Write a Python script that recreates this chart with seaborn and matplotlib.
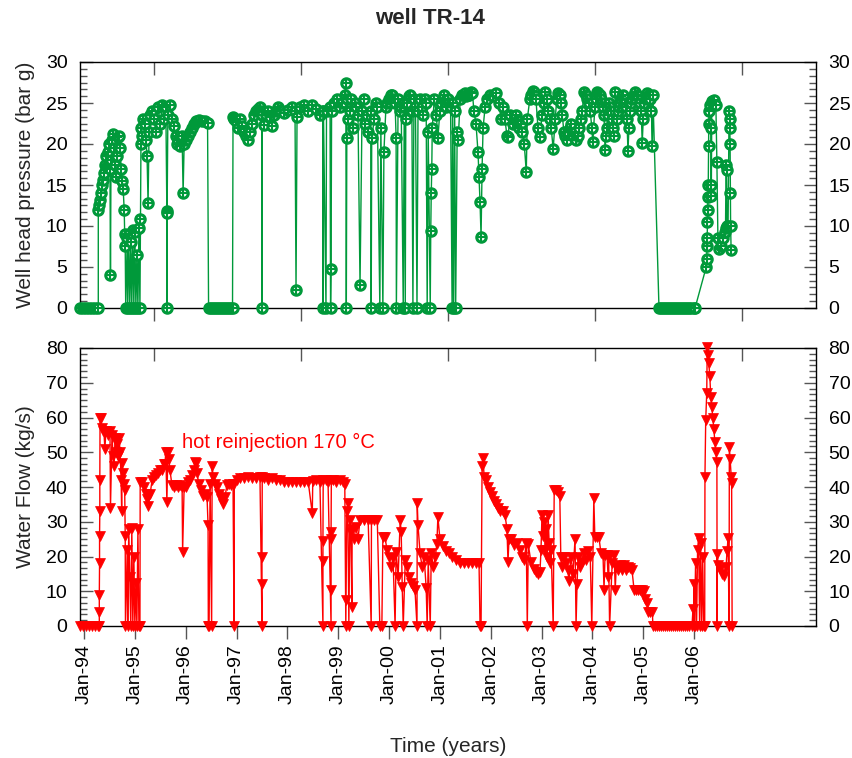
import numpy as np
import pandas as pd
import matplotlib
matplotlib.use("Agg")
import matplotlib.pyplot as plt
import matplotlib.dates as mdates
from matplotlib.ticker import MultipleLocator, AutoMinorLocator, NullFormatter
import seaborn as sns

# ---- well TR-14: well head pressure (decimal year, bar g) ----
p_year_a = [1993.92, 1993.98, 1994.04, 1994.10, 1994.16, 1994.22, 1994.28, 1994.28, 1994.30, 1994.31,
            1994.33, 1994.35, 1994.37, 1994.39, 1994.41, 1994.43, 1994.45, 1994.47, 1994.49, 1994.51,
            1994.52, 1994.53, 1994.55, 1994.57, 1994.59, 1994.61, 1994.63, 1994.65, 1994.67, 1994.69,
            1994.71, 1994.73, 1994.75, 1994.77, 1994.79, 1994.80, 1994.81, 1994.82, 1994.85, 1994.86,
            1994.88, 1994.90, 1994.92, 1994.94, 1994.96, 1994.98, 1995.00, 1995.02, 1995.04, 1995.06,
            1995.08, 1995.10, 1995.11, 1995.12, 1995.13, 1995.14, 1995.16, 1995.20, 1995.22, 1995.24,
            1995.26, 1995.28, 1995.30, 1995.34, 1995.38, 1995.42, 1995.46, 1995.50, 1995.54, 1995.57,
            1995.61, 1995.63, 1995.63, 1995.635, 1995.65, 1995.69, 1995.73, 1995.77, 1995.81, 1995.83,
            1995.85, 1995.89, 1995.93, 1995.95, 1995.97, 1996.00, 1996.04, 1996.09, 1996.12, 1996.16,
            1996.20, 1996.26, 1996.32, 1996.38, 1996.43, 1996.45, 1996.49, 1996.53, 1996.57, 1996.61,
            1996.65, 1996.69, 1996.73, 1996.77, 1996.81, 1996.85, 1996.89, 1996.92, 1996.93, 1996.95,
            1996.99, 1997.03, 1997.07, 1997.11, 1997.15, 1997.19, 1997.23, 1997.27, 1997.31, 1997.34,
            1997.38, 1997.42, 1997.46, 1997.50, 1997.50, 1997.505, 1997.54, 1997.58, 1997.62, 1997.66,
            1997.70, 1997.74, 1997.78, 1997.82, 1997.86, 1997.93, 1998.01, 1998.09, 1998.15, 1998.17,
            1998.19, 1998.25, 1998.33, 1998.41, 1998.49, 1998.56, 1998.64, 1998.70, 1998.70, 1998.71,
            1998.76, 1998.77, 1998.84, 1998.85, 1998.86, 1998.87, 1998.92, 1998.98]
p_bar_a = [0, 0, 0, 0, 0, 0, 0, 12.0, 12.5, 13.2,
           14.0, 15.0, 15.6, 16.5, 17.5, 18.5, 17.2, 19.0, 20.0, 17.0,
           4.0, 18.0, 20.5, 21.2, 19.5, 17.5, 16.0, 18.5, 20.8, 21.0,
           19.5, 17.0, 15.5, 14.5, 12.0, 9.0, 7.5, 0, 8.5, 0,
           9.0, 0, 8.0, 0, 9.5, 0, 9.3, 0, 6.5, 0,
           9.8, 0, 10.8, 20.0, 22.0, 21.0, 23.0, 22.5, 20.5, 18.5,
           12.8, 21.5, 23.5, 24.0, 23.0, 21.5, 24.5, 22.5, 24.8, 23.0,
           24.5, 11.8, 0, 11.6, 23.5, 24.7, 23.0, 22.2, 21.0, 20.0,
           20.5, 19.8, 21.0, 14.0, 20.0, 20.5, 21.0, 21.5, 22.0, 22.5,
           22.8, 22.9, 22.8, 22.8, 22.6, 0, 0, 0, 0, 0,
           0, 0, 0, 0, 0, 0, 0, 0, 23.3, 23.0,
           22.8, 22.0, 23.0, 22.2, 21.5, 21.0, 20.5, 21.5, 22.5, 23.5,
           24.0, 24.3, 24.5, 24.0, 0, 23.5, 22.3, 23.5, 24.0, 23.3,
           22.2, 23.5, 24.0, 24.5, 24.2, 23.8, 24.2, 24.5, 24.0, 2.2,
           23.3, 24.5, 24.7, 24.0, 24.8, 24.3, 23.5, 24.0, 0, 24.0,
           0, 24.0, 24.5, 0, 4.8, 24.0, 25.0, 25.5]

p_year_b = [1999.04, 1999.08, 1999.13, 1999.15, 1999.16, 1999.17, 1999.18, 1999.20, 1999.23, 1999.26,
            1999.29, 1999.33, 1999.36, 1999.39, 1999.43, 1999.47, 1999.50, 1999.53, 1999.56, 1999.59,
            1999.64, 1999.65, 1999.66, 1999.71, 1999.74, 1999.77, 1999.82, 1999.84, 1999.88, 1999.90,
            1999.94, 1999.97, 2000.00, 2000.03, 2000.06, 2000.09, 2000.12, 2000.14, 2000.145, 2000.18,
            2000.21, 2000.24, 2000.28, 2000.30, 2000.32, 2000.33, 2000.36, 2000.39, 2000.42, 2000.45,
            2000.47, 2000.49, 2000.52, 2000.55, 2000.57, 2000.61, 2000.64, 2000.67, 2000.70, 2000.73,
            2000.75, 2000.77, 2000.81, 2000.82, 2000.83, 2000.84, 2000.85, 2000.89, 2000.93, 2000.96,
            2001.00, 2001.03, 2001.06, 2001.09, 2001.12, 2001.15, 2001.18, 2001.21, 2001.24, 2001.25,
            2001.27, 2001.29, 2001.31, 2001.34, 2001.36, 2001.40, 2001.43, 2001.46, 2001.49, 2001.52,
            2001.55, 2001.58, 2001.61, 2001.64, 2001.67, 2001.71, 2001.75, 2001.77, 2001.79, 2001.81,
            2001.83, 2001.85, 2001.89, 2001.93, 2001.99]
p_bar_b = [24.5, 25.0, 26.0, 27.4, 0, 20.7, 25.5, 23.0, 24.0, 25.5,
           22.0, 25.0, 24.5, 23.5, 2.8, 24.0, 25.5, 22.5, 23.5, 21.5,
           24.0, 0, 20.7, 23.0, 25.0, 24.5, 0, 22.0, 0, 19.0,
           24.5, 25.0, 25.5, 26.0, 26.0, 25.5, 25.0, 20.7, 0, 25.5,
           24.0, 24.5, 0, 25.0, 0, 23.0, 25.0, 25.8, 26.0, 24.0,
           0, 25.5, 24.5, 0, 24.0, 25.5, 24.5, 23.5, 25.5, 25.0,
           0, 21.5, 0, 9.4, 14.0, 17.0, 22.0, 25.5, 23.5, 20.7,
           24.0, 25.0, 25.5, 26.0, 24.5, 25.5, 25.0, 24.5, 0, 25.0,
           0, 24.0, 0, 21.5, 20.5, 25.5, 26.0, 26.0, 26.2, 25.8,
           26.0, 26.0, 26.3, 26.2, 24.0, 22.5, 19.0, 16.0, 12.9, 8.7,
           17.0, 22.0, 24.5, 25.5, 26.0]

p_year_c = [2002.05, 2002.11, 2002.17, 2002.20, 2002.24, 2002.28, 2002.32, 2002.34, 2002.38, 2002.44,
            2002.47, 2002.50, 2002.53, 2002.56, 2002.59, 2002.62, 2002.66, 2002.70, 2002.72, 2002.77,
            2002.80, 2002.83, 2002.86, 2002.89, 2002.93, 2002.97, 2003.01, 2003.04, 2003.07, 2003.10,
            2003.13, 2003.16, 2003.19, 2003.23, 2003.27, 2003.30, 2003.33, 2003.36, 2003.38, 2003.41,
            2003.44, 2003.47, 2003.50, 2003.53, 2003.56, 2003.59, 2003.62, 2003.65, 2003.68, 2003.71,
            2003.74, 2003.77, 2003.80, 2003.84, 2003.87, 2003.90, 2003.93, 2003.96, 2003.99, 2004.01,
            2004.05, 2004.07, 2004.09, 2004.12, 2004.15, 2004.17, 2004.19, 2004.21, 2004.23, 2004.25,
            2004.27, 2004.29, 2004.31, 2004.33, 2004.35, 2004.37, 2004.39, 2004.41, 2004.43, 2004.45,
            2004.49, 2004.51, 2004.53, 2004.55, 2004.57, 2004.59, 2004.61, 2004.64, 2004.66, 2004.68,
            2004.70, 2004.72, 2004.74, 2004.76, 2004.78, 2004.81, 2004.84, 2004.87, 2004.90, 2004.93,
            2004.96, 2004.98, 2005.00, 2005.02, 2005.05, 2005.08, 2005.11, 2005.14, 2005.16, 2005.18,
            2005.19]
p_bar_c = [25.8, 26.2, 25.0, 23.0, 24.5, 23.0, 21.0, 20.8, 23.5, 22.5,
           23.0, 23.5, 22.8, 22.0, 22.5, 21.5, 20.0, 16.6, 23.0, 25.5,
           26.0, 26.5, 26.3, 25.5, 22.0, 20.9, 23.5, 25.0, 26.3, 25.5,
           24.0, 23.0, 22.0, 19.4, 23.0, 25.5, 26.2, 26.0, 25.0, 23.5,
           21.5, 21.0, 20.5, 21.5, 22.0, 22.5, 21.0, 21.5, 20.5, 21.0,
           22.0, 23.0, 24.0, 26.3, 26.0, 25.5, 25.0, 24.0, 22.0, 20.2,
           24.5, 25.5, 26.3, 26.2, 26.0, 25.5, 25.0, 24.5, 23.5, 19.3,
           21.0, 22.0, 23.5, 25.0, 24.5, 24.0, 23.0, 22.0, 21.0, 26.3,
           23.0, 24.0, 24.5, 25.0, 25.5, 25.8, 26.0, 25.0, 24.5, 23.0,
           19.1, 22.0, 24.0, 25.0, 25.5, 26.0, 26.3, 26.0, 25.8, 25.0,
           24.0, 20.1, 23.0, 25.0, 25.5, 26.2, 26.0, 25.5, 24.0, 19.8,
           26.0]

p_year_d = [2005.31, 2005.35, 2005.39, 2005.43, 2005.47, 2005.51, 2005.55, 2005.59, 2005.63, 2005.67,
            2005.71, 2005.75, 2005.79, 2005.83, 2005.87, 2005.91, 2005.95, 2005.99, 2006.02, 2006.24,
            2006.25, 2006.255, 2006.26, 2006.265, 2006.27, 2006.275, 2006.28, 2006.285, 2006.29, 2006.295,
            2006.31, 2006.33, 2006.335, 2006.34, 2006.35, 2006.37, 2006.39, 2006.43, 2006.45, 2006.47,
            2006.49, 2006.53, 2006.57, 2006.60, 2006.62, 2006.63, 2006.64, 2006.65, 2006.67, 2006.69,
            2006.70, 2006.705, 2006.71, 2006.715, 2006.72, 2006.73]
p_bar_d = [0, 0, 0, 0, 0, 0, 0, 0, 0, 0,
           0, 0, 0, 0, 0, 0, 0, 0, 0, 5.0,
           6.0, 7.5, 8.5, 10.5, 12.0, 13.5, 15.0, 19.7, 22.5, 24.0,
           24.8, 22.0, 15.0, 13.6, 25.2, 25.0, 25.4, 24.8, 17.8, 8.5,
           7.2, 7.5, 8.5, 9.3, 9.8, 17.5, 16.8, 10.0, 10.0, 24.0,
           23.0, 22.0, 20.0, 14.0, 10.0, 7.1]

# ---- water flow (decimal year, kg/s) ----
f_year_a = [1993.92, 1993.97, 1994.03, 1994.09, 1994.15, 1994.21, 1994.27, 1994.30, 1994.30, 1994.30,
            1994.305, 1994.305, 1994.31, 1994.31, 1994.315, 1994.33, 1994.35, 1994.37, 1994.39, 1994.41,
            1994.43, 1994.47, 1994.51, 1994.52, 1994.55, 1994.57, 1994.59, 1994.61, 1994.63, 1994.65,
            1994.67, 1994.69, 1994.71, 1994.73, 1994.74, 1994.75, 1994.77, 1994.79, 1994.80, 1994.81,
            1994.815, 1994.85, 1994.86, 1994.88, 1994.90, 1994.92, 1994.94, 1994.96, 1994.98, 1995.00,
            1995.02, 1995.04, 1995.06, 1995.08, 1995.10, 1995.105, 1995.14, 1995.18, 1995.22, 1995.24,
            1995.26, 1995.30, 1995.34, 1995.38, 1995.42, 1995.46, 1995.50, 1995.54, 1995.57, 1995.59,
            1995.61, 1995.63, 1995.65, 1995.67, 1995.69, 1995.73, 1995.77, 1995.81, 1995.85, 1995.89,
            1995.93, 1995.94, 1995.97, 1996.00, 1996.04, 1996.09, 1996.12, 1996.16, 1996.18, 1996.20,
            1996.22, 1996.26, 1996.30, 1996.34, 1996.38, 1996.42, 1996.44, 1996.445, 1996.46, 1996.48,
            1996.51, 1996.52, 1996.54, 1996.58, 1996.62, 1996.66, 1996.70, 1996.73, 1996.77, 1996.81,
            1996.85, 1996.89, 1996.93, 1996.95, 1996.955, 1997.01, 1997.07, 1997.15, 1997.23, 1997.31,
            1997.38, 1997.46, 1997.50, 1997.50, 1997.50, 1997.505, 1997.54, 1997.62, 1997.70, 1997.78,
            1997.86, 1997.93, 1998.01, 1998.09, 1998.17, 1998.25, 1998.33, 1998.41, 1998.49, 1998.50,
            1998.56, 1998.64, 1998.70, 1998.70, 1998.70, 1998.705, 1998.76, 1998.80, 1998.86, 1998.86,
            1998.86, 1998.86, 1998.865, 1998.90, 1998.96]
f_kgs_a = [0, 0, 0, 0, 0, 0, 0, 0, 4.0, 9.0,
           18, 26, 33, 42, 60, 60, 57, 56, 56, 51,
           56, 55, 56, 34, 55, 49, 46, 54, 50, 52.5,
           49, 54, 50, 42, 33, 47, 44, 41, 39, 26,
           0, 22, 0, 28, 14, 0, 28.3, 0, 20, 0,
           12.5, 0, 28, 0, 0, 41.5, 41.5, 40, 38, 36.5,
           34.5, 38, 42, 43, 43.5, 44, 45, 45, 46.5, 46.5,
           50, 35.7, 50, 48, 45, 40.5, 40, 40.5, 40, 40.5,
           40, 21.4, 40, 40, 41.5, 42, 43.5, 45, 47.2, 47,
           44, 41, 39, 37.5, 38, 37, 29, 0, 0, 41,
           0, 46, 43, 41, 40, 38, 36.5, 35, 37, 40.5,
           41, 40.5, 41, 0, 41, 42, 42.5, 42.5, 43, 42.5,
           42.5, 43, 0, 12, 20, 43, 42.5, 42, 42.5, 42,
           42, 41.5, 41.5, 41.5, 41.5, 41.5, 41.5, 41.5, 32.4, 41.8,
           42, 41.5, 0, 18.6, 24.5, 42, 42, 41.5, 0, 10.5,
           25, 27, 42, 42, 41.5]

f_year_b = [1999.04, 1999.10, 1999.13, 1999.15, 1999.155, 1999.17, 1999.19, 1999.21, 1999.23, 1999.25,
            1999.27, 1999.275, 1999.31, 1999.35, 1999.39, 1999.43, 1999.51, 1999.59, 1999.65, 1999.655,
            1999.71, 1999.77, 1999.82, 1999.86, 1999.88, 1999.92, 1999.96, 2000.00, 2000.04, 2000.08,
            2000.12, 2000.14, 2000.18, 2000.22, 2000.24, 2000.26, 2000.28, 2000.32, 2000.35, 2000.39,
            2000.43, 2000.47, 2000.51, 2000.55, 2000.555, 2000.57, 2000.61, 2000.65, 2000.69, 2000.73,
            2000.75, 2000.77, 2000.81, 2000.83, 2000.87, 2000.91, 2000.94, 2000.96, 2001.00, 2001.06,
            2001.12, 2001.18, 2001.24, 2001.32, 2001.40, 2001.48, 2001.55, 2001.64, 2001.71, 2001.77,
            2001.79, 2001.81, 2001.83, 2001.85, 2001.87, 2001.91, 2001.95, 2001.99]
f_kgs_b = [42, 41.5, 41, 0, 7.5, 33, 35.3, 0, 30.5, 27,
           5.5, 28, 25, 28.5, 25, 30.5, 30.5, 30.5, 0, 30.5,
           30.5, 30.5, 0, 0, 25.7, 25.7, 22, 20, 17, 19.5,
           0, 21.4, 14.2, 30.5, 27, 11.3, 0, 19, 17, 14.2,
           12.5, 11.5, 10.5, 0, 35.3, 29, 21, 17, 20, 11,
           0, 19, 0, 21, 17, 20, 23.5, 31.5, 25, 23,
           21.5, 21, 20, 19, 18, 18, 18.2, 18, 18, 18,
           0, 0, 46, 48.3, 43, 42, 40, 38.5]

f_year_c = [2002.03, 2002.07, 2002.11, 2002.15, 2002.18, 2002.24, 2002.28, 2002.32, 2002.34, 2002.36,
            2002.40, 2002.46, 2002.52, 2002.58, 2002.62, 2002.66, 2002.70, 2002.72, 2002.74, 2002.79,
            2002.85, 2002.89, 2002.93, 2002.97, 2002.99, 2003.01, 2003.03, 2003.05, 2003.07, 2003.09,
            2003.11, 2003.13, 2003.15, 2003.17, 2003.19, 2003.23, 2003.25, 2003.29, 2003.33, 2003.36,
            2003.38, 2003.40, 2003.44, 2003.48, 2003.52, 2003.54, 2003.58, 2003.62, 2003.66, 2003.68,
            2003.70, 2003.72, 2003.76, 2003.80, 2003.84, 2003.88, 2003.92, 2003.96, 2003.99, 2004.03,
            2004.05, 2004.09, 2004.13, 2004.17, 2004.21, 2004.23, 2004.25, 2004.29, 2004.31, 2004.32,
            2004.34, 2004.39, 2004.43, 2004.45, 2004.47, 2004.51, 2004.55, 2004.59, 2004.63, 2004.66,
            2004.70, 2004.74, 2004.78, 2004.82, 2004.86, 2004.90, 2004.94, 2004.98, 2005.02, 2005.04,
            2005.08, 2005.10, 2005.14, 2005.18]
f_kgs_c = [37.5, 36, 35, 34, 33, 33, 32, 28, 18.5, 25,
           25, 23.3, 24, 22, 20, 19, 24, 0, 23.5, 18.5,
           16.5, 15.5, 15, 15.5, 22, 32, 26, 30, 22, 28,
           20, 32, 24, 18, 22, 0, 39, 39, 38.5, 37.5,
           20, 17, 20, 18, 16, 13, 20, 15, 25, 0,
           12, 20, 17, 18.5, 21, 19, 21.5, 20, 0, 36.8,
           25.5, 25.5, 25.5, 21, 20.5, 10.5, 20.5, 20.5, 14, 20,
           0, 18, 20.5, 10.5, 17, 16, 17.5, 16, 17.5, 16,
           17, 16.8, 16, 10.4, 10.4, 10.4, 10.4, 10.4, 10, 7.9,
           6.5, 4.1, 4.1, 4.1]

f_year_d = [2005.19, 2005.23, 2005.27, 2005.31, 2005.35, 2005.39, 2005.43, 2005.47, 2005.51, 2005.55,
            2005.59, 2005.63, 2005.67, 2005.71, 2005.75, 2005.79, 2005.83, 2005.87, 2005.91, 2005.96,
            2005.98, 2005.99, 2006.00, 2006.01, 2006.03, 2006.05, 2006.07, 2006.09, 2006.11, 2006.13,
            2006.15, 2006.17, 2006.19, 2006.21, 2006.215, 2006.23, 2006.25, 2006.26, 2006.27, 2006.29,
            2006.31, 2006.33, 2006.35, 2006.37, 2006.39, 2006.41, 2006.43, 2006.45, 2006.455, 2006.46,
            2006.47, 2006.51, 2006.55, 2006.59, 2006.63, 2006.65, 2006.67, 2006.69, 2006.695, 2006.71,
            2006.73, 2006.74, 2006.75]
f_kgs_d = [0, 0, 0, 0, 0, 0, 0, 0, 0, 0,
           0, 0, 0, 0, 0, 0, 0, 0, 0, 0,
           5, 0, 12, 0, 18, 0, 22, 25.3, 0, 24,
           0, 20, 0, 0, 43, 59.3, 67, 80.4, 78, 75.6,
           72, 66, 63, 60, 56.7, 53, 50, 47.1, 0, 20.8,
           17.6, 16.5, 15, 14.5, 17, 21.5, 25.3, 0, 51.5, 48,
           43, 41.2, 0]

year_ticks = list(range(1994, 2007))
x_range = (1993.92, 2008.40)
note_text = "hot reinjection 170 °C"
note_pos = (1995.93, 52.7)


def to_datenum(dec_years):
    out = []
    for y in dec_years:
        yr = int(np.floor(y))
        start = pd.Timestamp(yr, 1, 1)
        end = pd.Timestamp(yr + 1, 1, 1)
        out.append(mdates.date2num(start + (end - start) * (y - yr)))
    return np.array(out)


pressure = pd.DataFrame({
    "t": to_datenum(p_year_a + p_year_b + p_year_c + p_year_d),
    "v": p_bar_a + p_bar_b + p_bar_c + p_bar_d,
})
flow = pd.DataFrame({
    "t": to_datenum(f_year_a + f_year_b + f_year_c + f_year_d),
    "v": f_kgs_a + f_kgs_b + f_kgs_c + f_kgs_d,
})

sns.set_style("white")
plt.rcParams["font.family"] = ["Liberation Sans", "DejaVu Sans"]
plt.rcParams["axes.linewidth"] = 1.0

GREEN = "#00993a"
RED = "#ff0000"
TICKC = "#555555"

fig = plt.figure(figsize=(8.52, 7.58), dpi=100)
W, H = 852, 758
ax1 = fig.add_axes([80 / W, 1 - 308 / H, 736 / W, 246 / H])
ax2 = fig.add_axes([80 / W, 1 - 626 / H, 736 / W, 278 / H])

# pressure: circle-with-cross markers joined by a thin line
sns.lineplot(data=pressure, x="t", y="v", ax=ax1, estimator=None, sort=False,
             color=GREEN, lw=1.0, marker="o", markersize=6.8, markerfacecolor="white",
             markeredgecolor=GREEN, markeredgewidth=2.2, clip_on=False, zorder=3)
ax1.plot(pressure["t"], pressure["v"], ls="none", marker="+", ms=6.2, mew=1.5,
         color=GREEN, clip_on=False, zorder=4)

# water flow: filled down-triangles
sns.lineplot(data=flow, x="t", y="v", ax=ax2, estimator=None, sort=False,
             color=RED, lw=1.0, marker="v", markersize=7, markerfacecolor=RED,
             markeredgecolor=RED, markeredgewidth=0.5, clip_on=False, zorder=3)

xmin, xmax = to_datenum(x_range)
fifths = [xmin + (k + 0.5) / 5 * (xmax - xmin) for k in range(5)]

for ax, ymax, major in ((ax1, 30, 5), (ax2, 80, 10)):
    ax.set_xlim(xmin, xmax)
    ax.set_ylim(0, ymax)
    ax.yaxis.set_major_locator(MultipleLocator(major))
    ax.yaxis.set_minor_locator(AutoMinorLocator(6))
    ax.tick_params(axis="y", which="both", direction="in", left=True, right=True,
                   labelleft=True, labelright=True, colors=TICKC, labelcolor="black",
                   labelsize=14, pad=9)
    ax.tick_params(axis="y", which="major", length=9, width=1)
    ax.tick_params(axis="y", which="minor", length=5, width=1)
    for s in ax.spines.values():
        s.set_color("black")
        s.set_linewidth(1.0)
    sec = ax.secondary_xaxis("top")
    sec.set_xticks(fifths)
    sec.xaxis.set_major_formatter(NullFormatter())
    sec.tick_params(direction="in", length=9, width=1, colors=TICKC)
    sec.spines["top"].set_visible(False)

ax1.set_xticks(fifths)
ax1.xaxis.set_major_formatter(NullFormatter())
ax1.tick_params(axis="x", direction="out", length=9, width=1, colors=TICKC, bottom=True)
ax1.set_xlabel("")
ax1.set_ylabel("Well head pressure (bar g)", fontsize=15, labelpad=8)

ax2.set_xticks(to_datenum(year_ticks))
ax2.xaxis.set_major_formatter(mdates.DateFormatter("%b-%y"))
ax2.tick_params(axis="x", direction="out", length=9, width=1, colors=TICKC,
                labelcolor="black", labelsize=14, labelrotation=90, bottom=True, pad=4)
ax2.set_xlabel("Time (years)", fontsize=15, labelpad=24)
ax2.set_ylabel("Water Flow (kg/s)", fontsize=15, labelpad=8)

nx = to_datenum([note_pos[0]])[0]
ax2.text(nx, note_pos[1], note_text, color=RED, fontsize=14.5, ha="left", va="center")

fig.text(430 / W, 1 - 18 / H, "well TR-14", ha="center", va="center",
         fontsize=16, fontweight="bold")

fig.savefig("out.png", dpi=100)
